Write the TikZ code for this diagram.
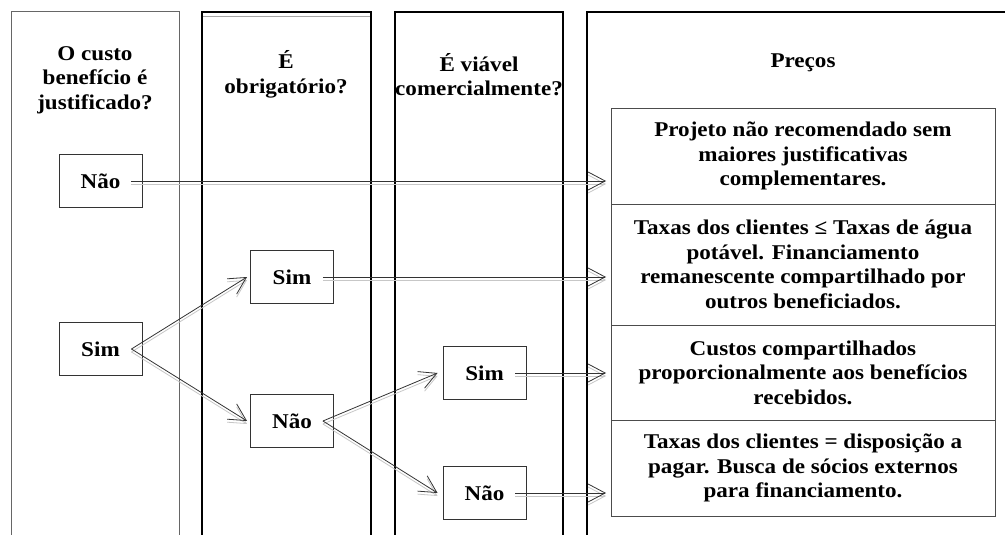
\documentclass[tikz,border=0pt]{standalone}
\usepackage{fontspec}
\setmainfont{Liberation Serif}[FakeStretch=1.1]
\usetikzlibrary{arrows.meta}
\begin{document}
\begin{tikzpicture}[x=1pt,y=-1pt,
  txt/.style={font=\bfseries\fontsize{21}{24.5}\selectfont, align=center, text=black, inner sep=0pt},
  smallbox/.style={txt, draw=black!80, line width=0.9pt, minimum width=83pt, minimum height=53pt},
  pricebox/.style={txt, draw=black!70, line width=0.9pt, minimum width=384pt},
  colthin/.style={draw=black!60, line width=1pt},
  colthick/.style={draw=black, line width=2pt},
  arr/.style={draw=black!80, line width=0.8pt, -{Straight Barb[length=17pt,width=18pt,line width=0.8pt]},
    preaction={draw=black!22, line width=0.8pt, -{Straight Barb[length=17pt,width=18pt,line width=0.8pt]}, transform canvas={yshift=-3pt}}},
]
\useasboundingbox[fill=white] (0,0) rectangle (1005,535);
% columns
\draw[colthin] (11,535) -- (11,12) -- (179,12) -- (179,535);
\draw[colthick] (202,535) -- (202,12) -- (371,12) -- (371,535);
\draw[draw=black!35, line width=1pt] (203,17) -- (370,17);
\draw[colthick] (395,535) -- (395,12) -- (563,12) -- (563,535);
\draw[colthick] (587,535) -- (587,12) -- (1005,12);
% headers
\node[txt] (h1) at (95,80) {O custo\\benefício é\\justificado?};
\node[txt] (h2) at (286,74.5) {É\\obrigatório?};
\node[txt] (h3) at (479,74.5) {É viável\\comercialmente?};
\node[txt, anchor=base] (h4) at (803,68) {Preços};
% decision boxes
\node[smallbox] (n1) at (100.5,181) {Não};
\node[smallbox] (s1) at (100.5,349) {Sim};
\node[smallbox] (s2) at (292,277) {Sim};
\node[smallbox] (n2) at (292,421) {Não};
\node[smallbox] (s3) at (484.5,373) {Sim};
\node[smallbox] (n3) at (484.5,493) {Não};
% price boxes
\node[pricebox, minimum height=96pt] (p1) at (803,156) {Projeto não recomendado sem\\maiores justificativas\\complementares.};
\node[pricebox, minimum height=121pt] (p2) at (803,264.5) {Taxas dos clientes ≤ Taxas de água\\potável. Financiamento\\remanescente compartilhado por\\outros beneficiados.};
\node[pricebox, minimum height=95pt] (p3) at (803,372.5) {Custos compartilhados\\proporcionalmente aos benefícios\\recebidos.};
\node[pricebox, minimum height=96pt] (p4) at (803,468) {Taxas dos clientes = disposição a\\pagar. Busca de sócios externos\\para financiamento.};
% arrow targets
\coordinate (t1) at (606,181);
\coordinate (t2) at (606,277);
\coordinate (t3) at (606,373);
\coordinate (t4) at (606,493);
% connectors
\draw[arr] ([xshift=-11pt]n1.east) -- (t1);
\draw[arr] ([xshift=-11pt]s1.east) -- ([xshift=-3pt]s2.west);
\draw[arr] ([xshift=-11pt]s1.east) -- ([xshift=-3pt]n2.west);
\draw[arr] ([xshift=-11pt]s2.east) -- (t2);
\draw[arr] ([xshift=-11pt]n2.east) -- ([xshift=-5pt]s3.west);
\draw[arr] ([xshift=-11pt]n2.east) -- ([xshift=-5pt]n3.west);
\draw[arr] ([xshift=-11pt]s3.east) -- (t3);
\draw[arr] ([xshift=-11pt]n3.east) -- (t4);
\end{tikzpicture}
\end{document}
